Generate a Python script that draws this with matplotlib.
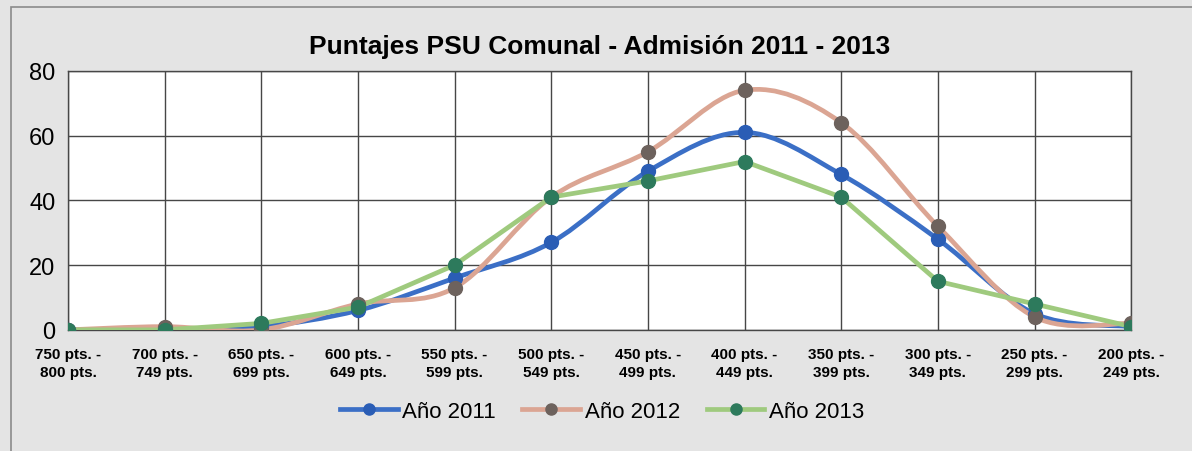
import numpy as np
import matplotlib
matplotlib.use('Agg')
import matplotlib.pyplot as plt
from matplotlib.path import Path
from matplotlib.patches import PathPatch, Rectangle
from matplotlib.lines import Line2D

# data
categorias = ['750 pts. -\n800 pts.', '700 pts. -\n749 pts.', '650 pts. -\n699 pts.',
              '600 pts. -\n649 pts.', '550 pts. -\n599 pts.', '500 pts. -\n549 pts.',
              '450 pts. -\n499 pts.', '400 pts. -\n449 pts.', '350 pts. -\n399 pts.',
              '300 pts. -\n349 pts.', '250 pts. -\n299 pts.', '200 pts. -\n249 pts.']
anio_2011 = [0, 0, 1, 6, 16, 27, 49, 61, 48, 28, 5, 1]
anio_2012 = [0, 1, 0, 8, 13, 41, 55, 74, 64, 32, 4, 2]
anio_2013 = [0, 0, 2, 7, 20, 41, 46, 52, 41, 15, 8, 1]
y_ticks = [0, 20, 40, 60, 80]

font = 'Liberation Sans'


def smooth_path(x, y, t=1 / 6):
    # Excel-style smoothed line as cubic Bezier segments through the points
    pts = np.column_stack([x, y]).astype(float)
    verts = [pts[0]]
    codes = [Path.MOVETO]
    n = len(pts)
    for i in range(n - 1):
        p0 = pts[max(i - 1, 0)]
        p1 = pts[i]
        p2 = pts[i + 1]
        p3 = pts[min(i + 2, n - 1)]
        c1 = p1 + (p2 - p0) * t
        c2 = p2 - (p3 - p1) * t
        verts += [c1, c2, p2]
        codes += [Path.CURVE4] * 3
    return Path(verts, codes)


fig = plt.figure(figsize=(11.92, 4.52), dpi=100)
fig.patch.set_facecolor('#e4e4e4')
fig.patches.append(Rectangle((0.009, -0.05), 1.2, 1.032, transform=fig.transFigure,
                             fill=False, edgecolor='#8a8a8a', lw=1.2))

ax = fig.add_axes([0.057, 0.268, 0.892, 0.573])
ax.set_facecolor('white')
x = np.arange(len(categorias))

series = [
    (anio_2011, 'Año 2011', '#3b6fc6', '#2a5db5', True),
    (anio_2012, 'Año 2012', '#dba593', '#6d625d', True),
    (anio_2013, 'Año 2013', '#9fca7e', '#2d7a5c', False),
]
handles = []
for vals, label, lc, mc, smooth in series:
    if smooth:
        ax.add_patch(PathPatch(smooth_path(x, vals), fill=False, edgecolor=lc, lw=3.4,
                               capstyle='round', zorder=3))
    else:
        ax.plot(x, vals, color=lc, lw=3.4, zorder=3, solid_capstyle='round')
    ax.plot(x, vals, ls='none', marker='o', ms=10, color=mc, zorder=4)
    handles.append(Line2D([0], [0], color=lc, lw=3.4, marker='o', ms=8,
                          markerfacecolor=mc, markeredgecolor=mc, label=label))

ax.set_xlim(0, len(categorias) - 1)
ax.set_ylim(0, 80)
ax.set_xticks(x)
ax.set_xticklabels(categorias, fontsize=11, fontweight='bold', family=font,
                   linespacing=1.45)
ax.set_yticks(y_ticks)
ax.set_yticklabels([str(v) for v in y_ticks], fontsize=17, family=font)
ax.tick_params(axis='x', length=0, pad=12)
ax.tick_params(axis='y', length=0, pad=9)
ax.grid(True, color='#474747', lw=1.0)
ax.set_axisbelow(True)
for s in ax.spines.values():
    s.set_color('#474747')
    s.set_linewidth(1.0)

fig.text(0.503, 0.897, 'Puntajes PSU Comunal - Admisión 2011 - 2013', ha='center',
         va='center', fontsize=19, fontweight='bold', family=font)

fig.legend(handles=handles, loc='center', bbox_to_anchor=(0.505, 0.088), ncol=3,
           frameon=False, handlelength=2.6, handletextpad=0.2, columnspacing=1.2,
           prop={'family': font, 'size': 16})

fig.savefig('out.png', dpi=100, facecolor=fig.get_facecolor())
